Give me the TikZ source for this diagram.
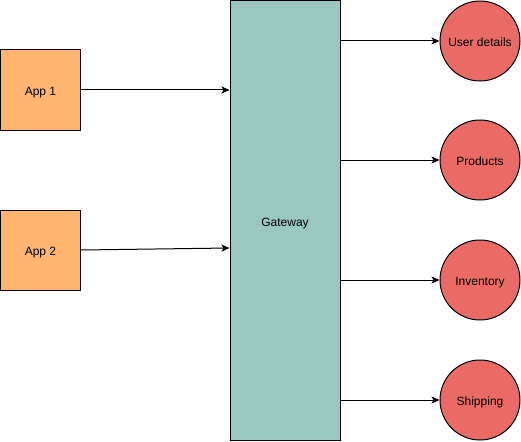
\documentclass[tikz,border=0pt]{standalone}
\usepackage{fontspec}
\setmainfont{Liberation Sans}
\usetikzlibrary{arrows.meta}
\definecolor{appfill}{HTML}{FFB570}
\definecolor{gwfill}{HTML}{9AC7BF}
\definecolor{svcfill}{HTML}{EA6B66}
\tikzset{
  every node/.style={font=\fontsize{12pt}{14pt}\selectfont, text=black, text height=11.5pt, text depth=0.3pt},
  appbox/.style={draw=black, line width=1pt, fill=appfill, minimum width=80pt, minimum height=80pt, inner sep=0pt},
  gwbox/.style={draw=black, line width=1pt, fill=gwfill, minimum width=110pt, minimum height=440pt, inner sep=0pt},
  svc/.style={circle, draw=black, line width=1pt, fill=svcfill, minimum size=80pt, inner sep=0pt},
  link/.style={draw=black, line width=1pt, -{Stealth[length=8pt,width=7pt,inset=2pt]}}
}
\begin{document}
\begin{tikzpicture}[x=1pt, y=-1pt]
  \useasboundingbox (0,0) rectangle (521,441);
  \node[appbox] (app1) at (40.5,90) {App 1};
  \node[appbox] (app2) at (40.5,250) {App 2};
  \node[gwbox] (gw) at (285,220.5) {Gateway};
  \node[svc] (user) at (480,41) {User details};
  \node[svc] (prod) at (480,160) {Products};
  \node[svc] (inv) at (480,280) {Inventory};
  \node[svc] (ship) at (480,400) {Shipping};
  % the second client's link ends slightly higher on the gateway
  \coordinate (g1) at (gw.west |- app1.east);
  \coordinate (g2) at ([yshift=2pt]gw.west |- app2.east);
  \draw[link] (app1.east) -- (g1);
  \draw[link] (app2.east) -- (g2);
  \draw[link] (gw.east |- user.west) -- (user.west);
  \draw[link] (gw.east |- prod.west) -- (prod.west);
  \draw[link] (gw.east |- inv.west) -- (inv.west);
  \draw[link] (gw.east |- ship.west) -- (ship.west);
\end{tikzpicture}
\end{document}
